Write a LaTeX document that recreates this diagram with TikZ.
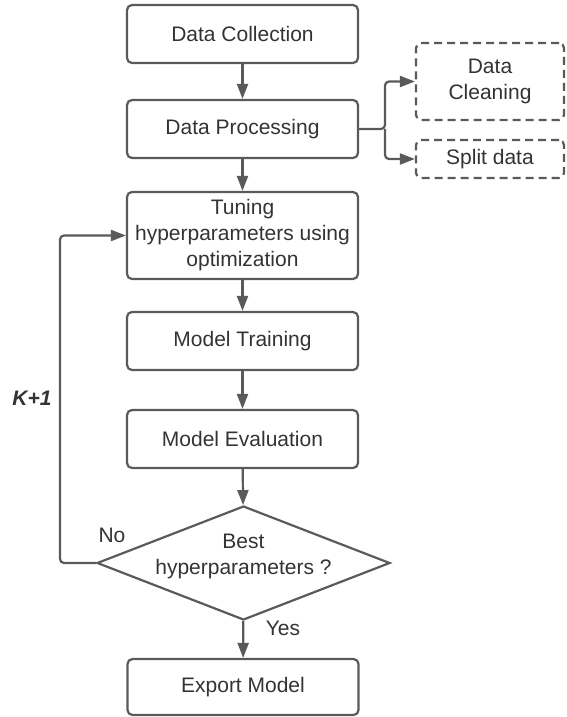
\documentclass[tikz,border=0pt]{standalone}
\usepackage{fontspec}
\setmainfont{Liberation Sans}
\usetikzlibrary{shapes.geometric,arrows.meta,positioning}
\definecolor{linegray}{HTML}{5A5A5A}
\definecolor{textgray}{HTML}{333333}

\begin{document}
\begin{tikzpicture}[x=1pt,y=-1pt,>={Triangle[length=15pt,width=11pt]},
		font=\fontsize{21}{26}\selectfont,text=textgray,
		process/.style={rectangle,draw=linegray,line width=2.2pt,rounded corners=5pt,
			minimum width=231pt,minimum height=58pt,align=center,inner sep=2pt},
		subtask/.style={process,dashed,dash pattern=on 8pt off 5pt,minimum width=148pt},
		decision/.style={diamond,draw=linegray,line width=2.2pt,aspect=2.57,inner sep=0pt,
			minimum width=293pt,minimum height=114pt},
		flow/.style={->,draw=linegray,line width=2.2pt}]
		\useasboundingbox (0,0) rectangle (566,717);
		
		\node[process]  (collect)    at (242.5,34)    {Data Collection};
		\node[process]  (process)    at (242.5,129)   {Data Processing};
		\node[process,minimum height=87pt] (tuning) at (242.5,235.5) {Tuning\\hyperparameters using\\optimization};
		\node[process]  (training)   at (242.5,341)   {Model Training};
		\node[process]  (evaluation) at (242.5,439)   {Model Evaluation};
		\node[decision] (best)       at (243.5,563)   {};
		\node[align=center] (besttext) at (243.5,556) {Best\\hyperparameters ?};
		\node[process,minimum height=56pt] (export) at (243,687) {Export Model};
		
		\node[subtask,minimum height=77pt] (cleaning) at (490,81.5) {Data\\Cleaning};
		\node[subtask,minimum height=38pt] (split)    at (490,159)  {Split data};
		
		\coordinate (fork) at (385,129);
		\coordinate (loop) at (60,563);
		
		\draw[flow] (collect) -- (process);
		\draw[flow] (process) -- (tuning);
		\draw[flow] (tuning) -- (training);
		\draw[flow] (training) -- (evaluation);
		\draw[flow] (evaluation) -- (best);
		\draw[flow] (best) -- (export);
		
		\draw[flow,rounded corners=4pt] (process.east) -- (fork) |- (cleaning.west);
		\draw[flow,rounded corners=4pt] (fork) |- (split.west);
		\draw[flow,rounded corners=4pt] (best.west) -- (loop) |- (tuning.west);
		
		\node (kplus) at (32,398)  {\bfseries\itshape K+1};
		\node (no)    at (112,535) {No};
		\node (yes)   at (283,628) {Yes};
\end{tikzpicture}
\end{document}
